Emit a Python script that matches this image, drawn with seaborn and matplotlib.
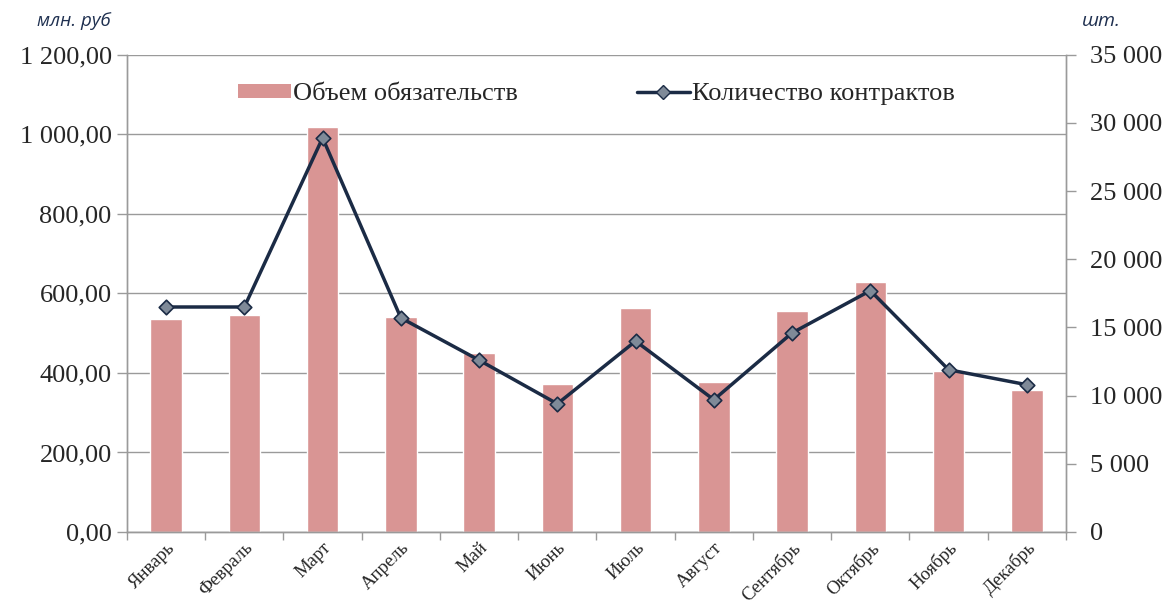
import numpy as np
import pandas as pd
import matplotlib
matplotlib.use("Agg")
import matplotlib.pyplot as plt
import matplotlib.ticker as ticker
from matplotlib.lines import Line2D
from matplotlib.patches import Patch
import seaborn as sns

# data
months = ["Январь", "Февраль", "Март", "Апрель", "Май", "Июнь",
          "Июль", "Август", "Сентябрь", "Октябрь", "Ноябрь", "Декабрь"]
volume = [536, 546, 1018, 541, 450, 372, 564, 378, 555, 629, 405, 356]
contracts = [16500, 16500, 28900, 15700, 12600, 9400, 14000, 9700, 14600, 17700, 11900, 10800]

bar_color = "#D99594"
line_color = "#1B2B45"
marker_color = "#7F8A98"
grid_color = "#9A9A9A"

df = pd.DataFrame({"month": months, "volume": volume,
                   "contracts": contracts, "pos": np.arange(len(months))})

sns.set_style("white")
plt.rcParams["font.family"] = ["Liberation Serif", "DejaVu Serif"]

fig = plt.figure(figsize=(11.65, 6.08), dpi=100)
ax = fig.add_axes([0.109, 0.125, 0.806, 0.785])
ax2 = ax.twinx()

sns.barplot(data=df, x="month", y="volume", color=bar_color, width=0.4,
            saturation=1, ax=ax, zorder=2)
ax2.plot(df["pos"], df["contracts"], color=line_color, lw=2.5, zorder=3)
sns.scatterplot(data=df, x="pos", y="contracts", marker="D", s=55,
                color=marker_color, edgecolor=line_color, linewidth=1.2,
                ax=ax2, zorder=4, legend=False)

# left axis
ax.set_ylim(0, 1200)
ax.set_yticks(np.arange(0, 1201, 200))
ax.yaxis.set_major_formatter(ticker.FuncFormatter(
    lambda v, p: f"{v:,.2f}".replace(",", " ").replace(".", ",")))
ax.grid(axis="y", color=grid_color, lw=1, zorder=0)
ax.set_axisbelow(True)
ax.tick_params(axis="y", labelsize=19, length=7, width=1, color=grid_color,
               direction="out", left=True, pad=4)

# right axis
ax2.set_ylim(0, 35000)
ax2.set_yticks(np.arange(0, 35001, 5000))
ax2.yaxis.set_major_formatter(ticker.FuncFormatter(
    lambda v, p: f"{int(v):,}".replace(",", " ")))
ax2.tick_params(axis="y", labelsize=19, length=7, width=1, color=grid_color,
                direction="out", right=True, pad=10)

# x axis: labels at the centres, ticks between the categories
ax.set_xlim(-0.5, len(months) - 0.5)
ax.set_xticks(np.arange(len(months)))
ax.set_xticklabels(months, rotation=45, ha="right", rotation_mode="anchor")
ax.set_xticks(np.arange(-0.5, len(months)), minor=True)
ax.tick_params(axis="x", which="major", length=0, labelsize=13.5, pad=5)
ax.tick_params(axis="x", which="minor", length=6, width=1, color=grid_color,
               direction="out", bottom=True)
ax.set_xlabel("")
ax.set_ylabel("")
ax2.set_xlabel("")
ax2.set_ylabel("")

for a in (ax, ax2):
    a.spines["top"].set_visible(False)
    for side in ("left", "right", "bottom"):
        a.spines[side].set_color(grid_color)
        a.spines[side].set_linewidth(1)

# unit captions
fig.text(0.032, 0.958, "млн. руб", fontsize=13.5, style="italic",
         color="#1F3050", family=["Open Sans", "DejaVu Sans"])
fig.text(0.929, 0.958, "шт.", fontsize=14, style="italic",
         color="#1F3050", family=["Open Sans", "DejaVu Sans"])

# legend
handles = [Patch(facecolor=bar_color, edgecolor="none"),
           Line2D([0], [0], color=line_color, lw=2.5, marker="D",
                  markersize=7, markerfacecolor=marker_color,
                  markeredgecolor=line_color)]
ax2.legend(handles, ["Объем обязательств", "Количество контрактов"],
           loc="upper center", bbox_to_anchor=(0.5, 0.99), ncol=2,
           frameon=False, fontsize=19, handlelength=2.0, handleheight=0.45,
           handletextpad=0.1, columnspacing=4.5)

fig.savefig("out.png", dpi=100)
